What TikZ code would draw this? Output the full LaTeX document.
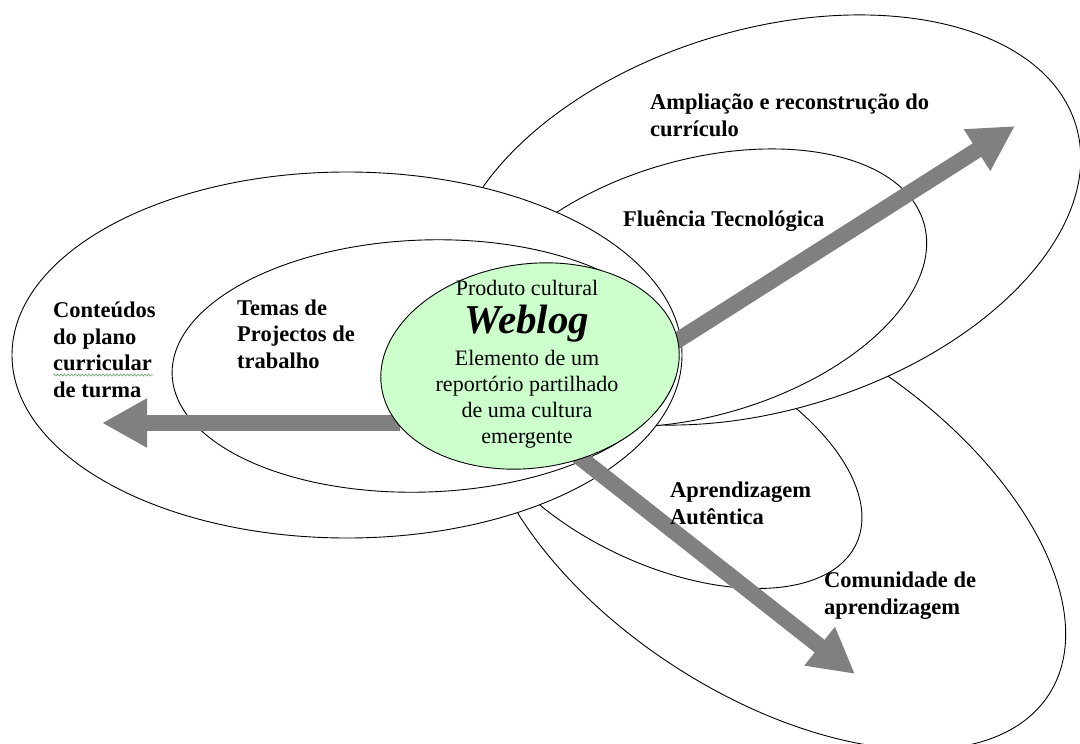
\documentclass[tikz,border=0pt]{standalone}
\usepackage{fontspec}
\setmainfont{Liberation Serif}
\usetikzlibrary{shapes.geometric,arrows.meta,decorations.pathmorphing}

\definecolor{arrowgray}{RGB}{128,128,128}
\definecolor{weblogfill}{RGB}{204,255,204}
\definecolor{squigglegreen}{RGB}{110,165,110}

\tikzset{
  zone/.style={ellipse,draw=black,line width=0.9pt,fill=white,inner sep=0pt,outer sep=0pt},
  lbl/.style={font=\fontsize{22.5}{26.5}\selectfont\bfseries,align=left,inner sep=0pt,anchor=base west},
  webtxt/.style={font=\fontsize{22}{26}\selectfont,align=center,inner sep=0pt,anchor=base},
  flow/.style={draw=arrowgray,line width=16pt,-{Triangle[length=45pt,width=46pt]}},
  squiggle/.style={draw=squigglegreen,line width=0.6pt,decorate,decoration={snake,amplitude=1.1pt,segment length=3.5pt}}
}

\begin{document}
\begin{tikzpicture}[x=1pt,y=1pt]
  \useasboundingbox (0,0) rectangle (1080,-744);

  % zones, drawn from the back to the front
  \node[zone,minimum width=660pt,minimum height=360pt,rotate=-33] (comunidade) at (772,-515) {};
  \node[zone,minimum width=420pt,minimum height=220pt,rotate=-25] (aprendizagem) at (666,-455) {};
  \node[zone,minimum width=650pt,minimum height=380pt,rotate=17] (ampliacao) at (765,-220) {};
  \node[zone,minimum width=470pt,minimum height=256pt,rotate=16] (fluencia) at (698,-288) {};
  \node[zone,minimum width=670pt,minimum height=366pt] (conteudos) at (347,-355) {};
  \node[zone,minimum width=506pt,minimum height=252pt,rotate=2] (temas) at (425,-366) {};

  % arrow ends
  \coordinate (leftstart) at (400,-423);
  \coordinate (lefttip) at (102,-423);
  \coordinate (upstart) at (590,-396);
  \coordinate (uptip) at (1015,-126);
  \coordinate (downstart) at (545,-430);
  \coordinate (downtip) at (855,-674);

  \draw[flow] (leftstart) -- (lefttip);
  \draw[flow] (upstart) -- (uptip);
  \draw[flow] (downstart) -- (downtip);

  % the weblog in the middle
  \node[zone,fill=weblogfill,minimum width=300pt,minimum height=204pt,rotate=8] (weblog) at (530,-366) {};
  \node[webtxt] (produto) at (527,-295) {Produto cultural};
  \node[inner sep=0pt,anchor=base,font=\fontsize{41}{41}\selectfont\bfseries\itshape] (webtitle) at (527,-333) {Weblog};
  \node[webtxt] (elemento) at (527,-443) {Elemento de um\\reportório partilhado\\de uma cultura\\emergente};

  % labels of the zones (base = last line)
  \node[lbl] (amplabel) at (650,-136) {Ampliação e reconstrução do\\currículo};
  \node[lbl] (flulabel) at (623,-226) {Fluência Tecnológica};
  \node[lbl] (conlabel) at (53,-397) {Conteúdos\\do plano\\curricular\\de turma};
  \node[lbl] (temlabel) at (237,-368) {Temas de\\Projectos de\\trabalho};
  \node[lbl] (aprlabel) at (670,-524) {Aprendizagem\\Autêntica};
  \node[lbl] (comlabel) at (824,-614) {Comunidade de\\aprendizagem};

  \draw[squiggle] (53,-375) -- (153,-375);
\end{tikzpicture}
\end{document}
